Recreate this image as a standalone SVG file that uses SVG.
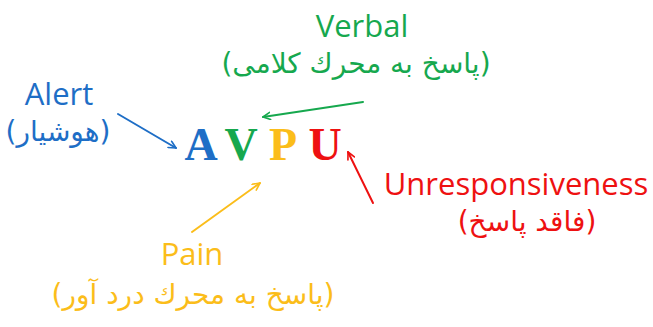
<svg xmlns="http://www.w3.org/2000/svg" width="653" height="327" viewBox="0 0 653 327">
  <style>
    .lat { font-family: "Open Sans", "Liberation Sans", sans-serif; font-size: 31px; text-anchor: middle; }
    .fa { font-family: "DejaVu Sans", "Noto Sans", sans-serif; font-size: 28px; text-anchor: middle; }
    .big { font-family: "Liberation Serif", "Times New Roman", serif; font-size: 46px; font-weight: bold; text-anchor: middle; }
    .blue { fill: #1E6EC6; }
    .green { fill: #16A84E; }
    .gold { fill: #FBBD1A; }
    .red { fill: #EE1111; }
    .arr { fill: none; stroke-width: 2; stroke-linecap: round; }
  </style>
  <defs>
    <!-- open arrowheads, one per colour -->
    <marker id="hb" viewBox="0 0 10 10" refX="9" refY="5" markerWidth="9" markerHeight="9" orient="auto" markerUnits="userSpaceOnUse"><path d="M1,1 L9,5 L1,9" fill="none" stroke="#1E6EC6" stroke-width="1.8" stroke-linecap="round" stroke-linejoin="round"/></marker>
    <marker id="hg" viewBox="0 0 10 10" refX="9" refY="5" markerWidth="9" markerHeight="9" orient="auto" markerUnits="userSpaceOnUse"><path d="M1,1 L9,5 L1,9" fill="none" stroke="#16A84E" stroke-width="1.8" stroke-linecap="round" stroke-linejoin="round"/></marker>
    <marker id="hy" viewBox="0 0 10 10" refX="9" refY="5" markerWidth="9" markerHeight="9" orient="auto" markerUnits="userSpaceOnUse"><path d="M1,1 L9,5 L1,9" fill="none" stroke="#FBBD1A" stroke-width="1.8" stroke-linecap="round" stroke-linejoin="round"/></marker>
    <marker id="hr" viewBox="0 0 10 10" refX="9" refY="5" markerWidth="9" markerHeight="9" orient="auto" markerUnits="userSpaceOnUse"><path d="M1,1 L9,5 L1,9" fill="none" stroke="#EE1111" stroke-width="1.8" stroke-linecap="round" stroke-linejoin="round"/></marker>
  </defs>
  <rect width="653" height="327" fill="#ffffff"/>

  <!-- central acronym -->
  <g id="avpu">
    <text class="big blue" x="201" y="160">A</text>
    <text class="big green" x="241" y="160">V</text>
    <text class="big gold" x="283" y="160">P</text>
    <text class="big red" x="325" y="160">U</text>
  </g>

  <g id="alert">
    <text class="lat blue" x="59" y="105">Alert</text>
    <text class="fa blue" x="58" y="141">(هوشیار)</text>
  </g>

  <g id="verbal">
    <text class="lat green" x="362" y="37">Verbal</text>
    <text class="fa green" x="356" y="73">(پاسخ به محرك كلامى)</text>
  </g>

  <g id="pain">
    <text class="lat gold" x="192" y="265">Pain</text>
    <text class="fa gold" x="193" y="304">(پاسخ به محرك درد آور)</text>
  </g>

  <g id="unresponsiveness">
    <text class="lat red" x="516" y="195">Unresponsiveness</text>
    <text class="fa red" x="527" y="231">(فاقد پاسخ)</text>
  </g>

  <!-- connectors -->
  <g id="connectors">
    <line class="arr" x1="118" y1="114" x2="176" y2="148" stroke="#1E6EC6" marker-end="url(#hb)"/>
    <line class="arr" x1="363" y1="102" x2="263" y2="117" stroke="#16A84E" marker-end="url(#hg)"/>
    <line class="arr" x1="192" y1="232" x2="260" y2="183" stroke="#FBBD1A" marker-end="url(#hy)"/>
    <line class="arr" x1="373" y1="203" x2="348" y2="152" stroke="#EE1111" marker-end="url(#hr)"/>
  </g>
</svg>
